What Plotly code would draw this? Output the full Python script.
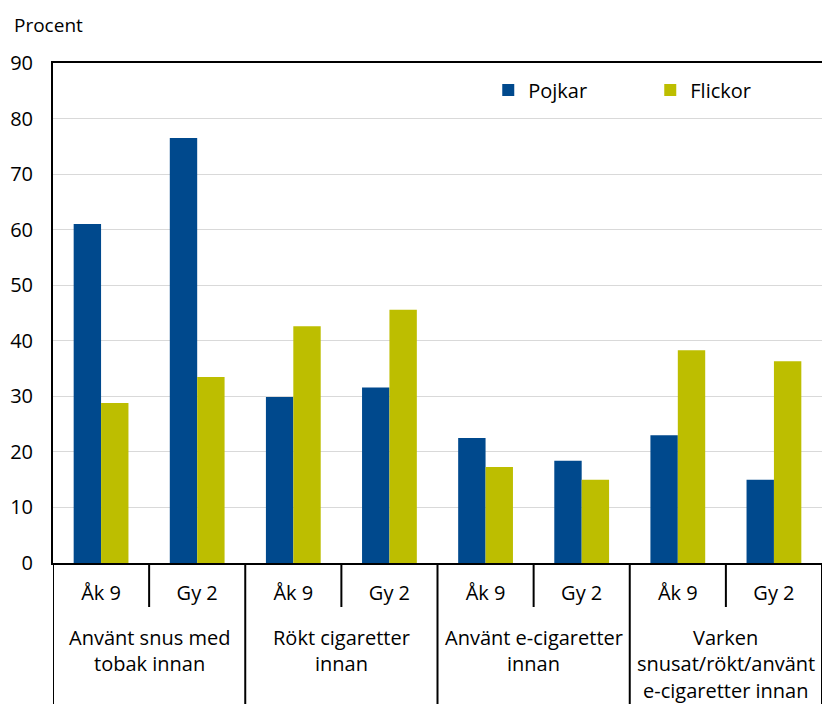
import plotly.graph_objects as go

# data
categories = ["snus_ak9", "snus_gy2", "rokt_ak9", "rokt_gy2",
              "ecig_ak9", "ecig_gy2", "varken_ak9", "varken_gy2"]
tick_labels = ["Åk 9", "Gy 2"] * 4
groups = [["Använt snus med", "tobak innan"],
          ["Rökt cigaretter", "innan"],
          ["Använt e-cigaretter", "innan"],
          ["Varken", "snusat/rökt/använt", "e-cigaretter innan"]]
pojkar = [61.0, 76.5, 29.9, 31.6, 22.5, 18.4, 23.0, 15.0]
flickor = [28.8, 33.5, 42.6, 45.6, 17.3, 15.0, 38.3, 36.3]

FONT = "'Open Sans', sans-serif"
BLUE = "#00498d"
OLIVE = "#bdbe00"

fig = go.Figure()
fig.add_trace(go.Bar(x=categories, y=pojkar, name="Pojkar",
                     marker=dict(color=BLUE, line_width=0)))
fig.add_trace(go.Bar(x=categories, y=flickor, name="Flickor",
                     marker=dict(color=OLIVE, line_width=0)))

# plot area 500 px high, 141 px label area below
PH = 500.0
PW = 769.0
line = dict(color="black", width=2)
for i in range(5):
    fig.add_shape(type="line", xref="x", yref="paper",
                  x0=-0.5 + 2 * i, x1=-0.5 + 2 * i, y0=0, y1=-141 / PH, line=line)
for i in range(4):
    fig.add_shape(type="line", xref="x", yref="paper",
                  x0=0.5 + 2 * i, x1=0.5 + 2 * i, y0=0, y1=-44 / PH, line=line)
for i, g in enumerate(groups):
    for j, txt in enumerate(g):
        fig.add_annotation(text=txt, x=0.5 + 2 * i, xref="x", y=0, yref="paper",
                           yanchor="middle", yshift=-74 - 26.5 * j, showarrow=False,
                           font=dict(size=20, color="black"))

fig.add_annotation(text="Procent", xref="paper", yref="paper", x=-41 / PW,
                   y=1 + 38 / PH, xanchor="left", yanchor="middle",
                   showarrow=False, font=dict(size=19, color="black"))

fig.update_xaxes(
    type="category", tickvals=categories, ticktext=tick_labels,
    range=[-0.5, 7.5], showline=True, linecolor="black", linewidth=2,
    mirror=True, ticks="", ticklabelstandoff=11,
    tickfont=dict(size=20, color="black"), showgrid=False,
)
fig.update_yaxes(
    range=[0, 90], dtick=10, showgrid=True, gridcolor="#d9d9d9", gridwidth=1,
    showline=True, linecolor="black", linewidth=2, ticks="",
    ticklabelstandoff=14, tickfont=dict(size=20, color="black"),
    zeroline=False,
)
fig.update_layout(
    width=822, height=704,
    margin=dict(l=53, r=0, t=63, b=141, autoexpand=False),
    barmode="group", bargap=0.43, bargroupgap=0,
    paper_bgcolor="white", plot_bgcolor="white",
    font=dict(family=FONT, size=20, color="black"),
    showlegend=True,
    legend=dict(orientation="h", x=0.566, xanchor="left", y=1 - 27 / PH,
                yanchor="middle", font=dict(size=20), bgcolor="rgba(0,0,0,0)",
                itemwidth=30, entrywidth=117),
)

fig.write_html("out.html", config={"displayModeBar": False},
               post_script="document.body.style.margin='0';")
